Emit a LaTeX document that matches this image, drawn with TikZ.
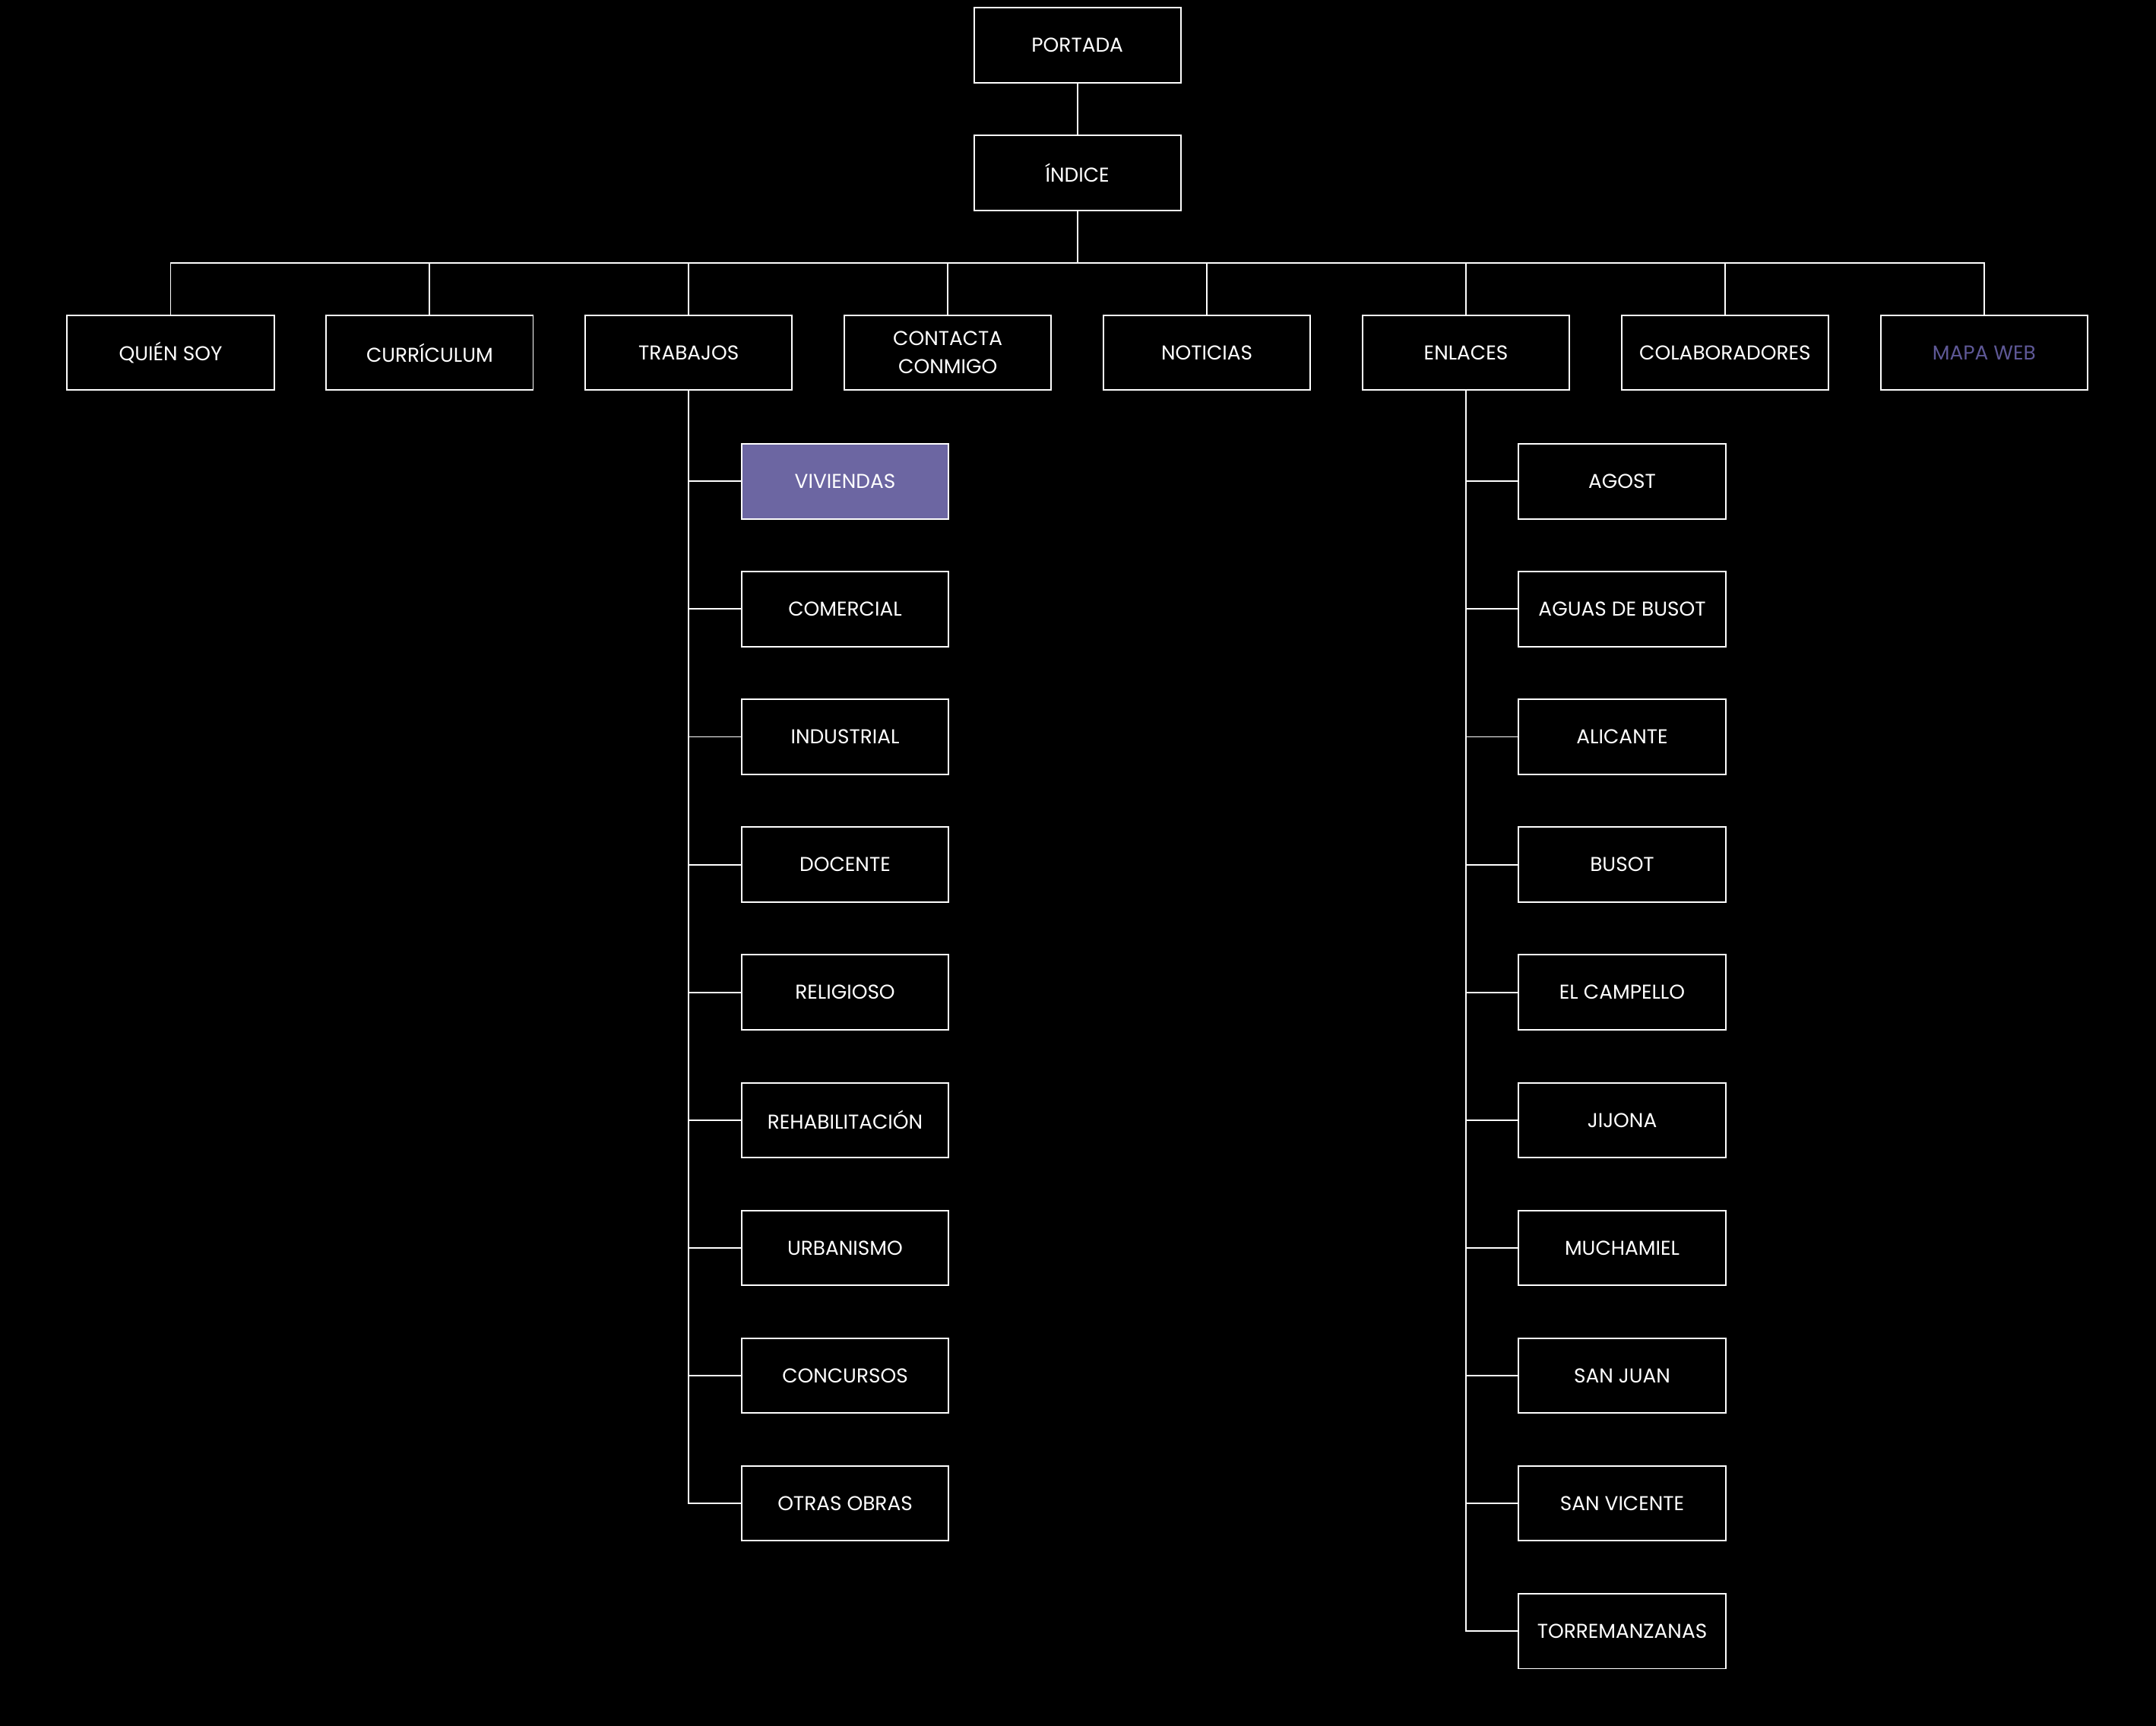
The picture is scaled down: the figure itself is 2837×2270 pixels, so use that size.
\documentclass[tikz,border=0pt]{standalone}
\usepackage{fontspec}
\setmainfont{Poppins}
\usetikzlibrary{positioning}

\definecolor{lila}{HTML}{6C66A2}
\definecolor{lilatext}{HTML}{5E5896}

\begin{document}
\begin{tikzpicture}[x=0.01cm, y=-0.01cm,
  every node/.style={rectangle, draw=white, line width=0.55pt, text=white,
    minimum width=2.72cm, minimum height=0.985cm, inner sep=0pt, align=center,
    font=\fontsize{7.5pt}{10.4pt}\selectfont},
  every path/.style={line width=0.55pt}]
  \useasboundingbox (0,0) rectangle (2837,2270);
  \fill[black] (-20,-20) rectangle (2857,2290);
  % main pages
  \node (portada) at (1417.7,59.3)  {PORTADA};
  \node (indice)  at (1417.7,227.5) {ÍNDICE};
  \coordinate (bus) at (1417.7,345.7);
  \node (quien)  at (224.5,464)  {QUIÉN SOY};
  \node (curri)  at (565.4,464)  {CURRÍCULUM};
  \node (trab)   at (906.3,464)  {TRABAJOS};
  \node (contac) at (1247.2,464) {CONTACTA\\CONMIGO};
  \node (notic)  at (1588.1,464) {NOTICIAS};
  \node (enlac)  at (1929.0,464) {ENLACES};
  \node (colab)  at (2269.9,464) {COLABORADORES};
  \node[text=lilatext] (mapa) at (2610.8,464) {MAPA WEB};
  % trabajos
  \node[fill=lila] (viv) at (1112,633.3) {VIVIENDAS};
  \node (comer)  at (1112,801.4)  {COMERCIAL};
  \node (indus)  at (1112,969.5)  {INDUSTRIAL};
  \node (docen)  at (1112,1137.6) {DOCENTE};
  \node (relig)  at (1112,1305.7) {RELIGIOSO};
  \node (rehab)  at (1112,1473.8) {REHABILITACIÓN};
  \node (urban)  at (1112,1641.9) {URBANISMO};
  \node (concu)  at (1112,1810.0) {CONCURSOS};
  \node (otras)  at (1112,1978.1) {OTRAS OBRAS};
  % enlaces
  \node (agost)  at (2134.5,633.3)  {AGOST};
  \node (aguas)  at (2134.5,801.4)  {AGUAS DE BUSOT};
  \node (alica)  at (2134.5,969.5)  {ALICANTE};
  \node (busot)  at (2134.5,1137.6) {BUSOT};
  \node (campe)  at (2134.5,1305.7) {EL CAMPELLO};
  \node (jijon)  at (2134.5,1473.8) {JIJONA};
  \node (mucha)  at (2134.5,1641.9) {MUCHAMIEL};
  \node (sjuan)  at (2134.5,1810.0) {SAN JUAN};
  \node (svice)  at (2134.5,1978.1) {SAN VICENTE};
  \node (torre)  at (2134.5,2146.2) {TORREMANZANAS};
  % connectors
  \draw[white] (portada) -- (indice);
  \draw[white] (indice) -- (bus);
  \draw[white] (bus) -| (quien.north);
  \draw[white] (bus) -| (curri.north);
  \draw[white] (bus) -| (trab.north);
  \draw[white] (bus) -| (contac.north);
  \draw[white] (bus) -| (notic.north);
  \draw[white] (bus) -| (enlac.north);
  \draw[white] (bus) -| (colab.north);
  \draw[white] (bus) -| (mapa.north);
  \draw[white] (trab.south) |- (viv.west);
  \draw[white] (trab.south) |- (comer.west);
  \draw[white] (trab.south) |- (indus.west);
  \draw[white] (trab.south) |- (docen.west);
  \draw[white] (trab.south) |- (relig.west);
  \draw[white] (trab.south) |- (rehab.west);
  \draw[white] (trab.south) |- (urban.west);
  \draw[white] (trab.south) |- (concu.west);
  \draw[white] (trab.south) |- (otras.west);
  \draw[white] (enlac.south) |- (agost.west);
  \draw[white] (enlac.south) |- (aguas.west);
  \draw[white] (enlac.south) |- (alica.west);
  \draw[white] (enlac.south) |- (busot.west);
  \draw[white] (enlac.south) |- (campe.west);
  \draw[white] (enlac.south) |- (jijon.west);
  \draw[white] (enlac.south) |- (mucha.west);
  \draw[white] (enlac.south) |- (sjuan.west);
  \draw[white] (enlac.south) |- (svice.west);
  \draw[white] (enlac.south) |- (torre.west);
\end{tikzpicture}
\end{document}
